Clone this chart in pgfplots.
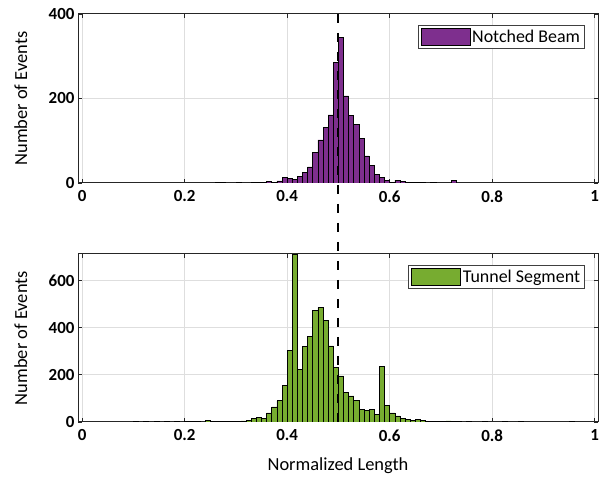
\documentclass[border=0pt]{standalone}
\usepackage{fontspec}
\setmainfont{Carlito}
\usepackage{pgfplots}
\pgfplotsset{compat=1.18}
\definecolor{mpurple}{RGB}{126,47,142}
\definecolor{mgreen}{RGB}{119,172,48}
\pgfplotsset{
  histo/.style={
    scale only axis, width=520bp,
    xmin=-0.008, xmax=1.0064, ymin=0,
    axis line style={line width=1pt, draw=black!85},
    tick align=inside, tick pos=both,
    xticklabel pos=lower, yticklabel pos=left,
    major tick length=4bp,
    tick style={line width=0.8pt, draw=black!85},
    grid=major,
    major grid style={line width=1pt, draw=black!13},
    xtick={0,0.2,0.4,0.6,0.8,1},
    xticklabels={0,0.2,0.4,0.6,0.8,1},
    /pgf/number format/assume math mode=true,
    ticklabel style={font=\bfseries\fontsize{17}{20}\selectfont},
    xticklabel style={yshift=-4bp},
    every axis y label/.style={at={(axis description cs:-0.11,0.5)}, rotate=90,
      anchor=center, font=\fontsize{18.5}{22}\selectfont},
    every axis x label/.style={at={(axis description cs:0.5,-0.262)},
      anchor=center, font=\fontsize{18.5}{22}\selectfont},
    legend image code/.code={\draw[##1, line width=0.6pt] (0bp,-8.5bp) rectangle (49bp,8.5bp);},
    legend style={at={(rel axis cs:0.975,0.935)}, anchor=north east,
      draw=black!75, line width=1pt, inner sep=2.5bp,
      font=\fontsize{18}{21}\selectfont, cells={anchor=west}},
  },
  bars/.style={ybar, bar width=0.01, bar shift=0pt, draw=black, line width=0.6pt, fill=#1},
}
\begin{document}
\begin{tikzpicture}[x=1bp,y=1bp]
\useasboundingbox (0,0) rectangle (607,483);

\begin{axis}[histo, at={(78bp,300bp)}, anchor=south west, height=169bp,
  ymax=400, ytick={0,200,400}, yticklabels={0,200,400}, ylabel={Number of Events}]
\addplot[bars=mpurple] coordinates {
(0.265,1) (0.275,1) (0.305,1) (0.335,1) (0.345,1) (0.355,2) (0.365,3) (0.375,2)
(0.385,5) (0.395,13) (0.405,10) (0.415,9) (0.425,15) (0.435,26) (0.445,38)
(0.455,72) (0.465,102) (0.475,132) (0.485,161) (0.495,286) (0.505,344)
(0.515,206) (0.525,160) (0.535,139) (0.545,105) (0.555,64) (0.565,41)
(0.575,20) (0.585,13) (0.595,6) (0.605,2) (0.615,7) (0.625,3) (0.635,1)
(0.645,1) (0.655,2) (0.665,2) (0.685,1) (0.725,6)
};
\addlegendentry{Notched Beam}
\coordinate (dtop) at (axis cs:0.5,400);
\end{axis}

\begin{axis}[histo, at={(78bp,61bp)}, anchor=south west, height=168bp,
  ymax=713, ytick={0,200,400,600}, yticklabels={0,200,400,600},
  ylabel={Number of Events}, xlabel={Normalized Length}]
\addplot[bars=mgreen] coordinates {
(0.105,1) (0.125,1) (0.145,1) (0.165,1) (0.185,1) (0.205,1) (0.215,1) (0.225,2)
(0.245,7) (0.255,2) (0.265,2) (0.275,2) (0.285,2) (0.295,2) (0.305,3) (0.315,5)
(0.325,6) (0.335,15) (0.345,20) (0.355,15) (0.365,39) (0.375,64) (0.385,90)
(0.395,155) (0.405,305) (0.415,713) (0.425,223) (0.435,320) (0.445,364)
(0.455,474) (0.465,485) (0.475,432) (0.485,323) (0.495,232) (0.505,196)
(0.515,124) (0.525,111) (0.535,91) (0.545,52) (0.555,49) (0.565,54) (0.575,33)
(0.585,237) (0.595,69) (0.605,39) (0.615,26) (0.625,16) (0.635,12) (0.645,8)
(0.655,12) (0.665,8) (0.675,3) (0.685,2) (0.695,3) (0.705,2) (0.715,5)
(0.725,2) (0.735,1) (0.755,1) (0.785,1) (0.825,1) (0.855,1) (0.955,1)
};
\addlegendentry{Tunnel Segment}
\coordinate (dbot) at (axis cs:0.5,0);
\end{axis}

\draw[black, line width=2bp, dash pattern=on 9.5bp off 9.5bp] (dtop) -- (dbot);
\end{tikzpicture}
\end{document}
